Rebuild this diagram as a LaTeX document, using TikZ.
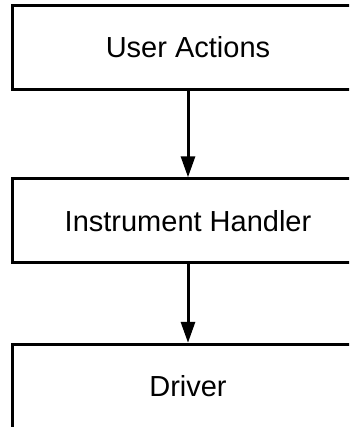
\documentclass[tikz,border=0pt]{standalone}
\usepackage{fontspec}
\setmainfont{Liberation Sans}
\usepackage{tikz}
\usetikzlibrary{arrows.meta, positioning}
\tikzset{
  block/.style={rectangle, draw=black, line width=3pt, minimum width=351pt,
    minimum height=84pt, align=center, font=\fontsize{29}{35}\selectfont},
  arrow/.style={-{Triangle[length=21pt, width=14pt]}, line width=3pt, draw=black}
}

\begin{document}
\begin{tikzpicture}
  \useasboundingbox (0,0) rectangle (349pt,-427pt);
  \clip (0,0) rectangle (349pt,-427pt);
  \node[block] (user) at (188pt,-47.5pt) {User Actions};
  \node[block, below=86.3pt of user] (handler) {Instrument Handler};
  \node[block, below=78.5pt of handler] (driver) {Driver};
  \draw[arrow] (user) -- (handler);
  \draw[arrow] (handler) -- (driver);
\end{tikzpicture}
\end{document}
